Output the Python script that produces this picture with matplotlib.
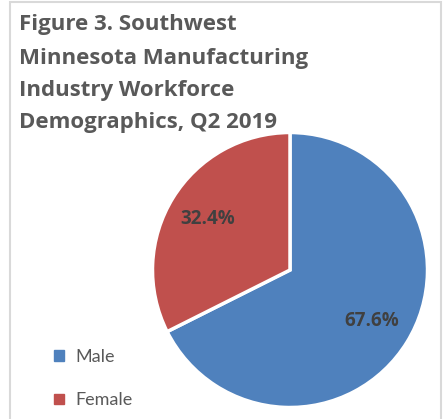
import matplotlib
matplotlib.use("Agg")
import matplotlib.pyplot as plt
from matplotlib.patches import Rectangle, Patch

categories = ["Male", "Female"]
values = [67.6, 32.4]
colors = ["#4F81BD", "#C0504D"]
title_lines = ["Figure 3. Southwest", "Minnesota Manufacturing",
               "Industry Workforce", "Demographics, Q2 2019"]

W, H = 447, 419
fig = plt.figure(figsize=(W / 100, H / 100), dpi=100)
fig.patch.set_facecolor("white")

# border
fig.patches.append(Rectangle((10 / W, -0.02), (441 - 10) / W, (H - 2) / H + 0.02,
                             transform=fig.transFigure, fill=False,
                             edgecolor="#d9d9d9", linewidth=1.5))

cx, cy, r = 290, 270, 137.5
ax = fig.add_axes([(cx - r) / W, (H - cy - r) / H, 2 * r / W, 2 * r / H])
wedges, texts, autotexts = ax.pie(
    values, colors=colors, startangle=90, counterclock=False,
    autopct=lambda p: f"{p:.1f}%", pctdistance=0.70, radius=1,
    wedgeprops=dict(edgecolor="white", linewidth=2.5),
    textprops=dict(color="#404040", fontsize=13.5, fontweight="bold", family="Open Sans"))
ax.set_xlim(-1.0, 1.0)
ax.set_ylim(-1.0, 1.0)
ax.set_aspect("auto")
ax.axis("off")

# title lines placed individually (centre y in px from top)
line_y = [22, 56, 88, 120]
for txt, y in zip(title_lines, line_y):
    fig.text(19 / W, 1 - y / H, txt, ha="left", va="center_baseline", fontsize=16.0,
             fontweight="bold", color="#595959", family="Open Sans")

handles = [Patch(facecolor=c, edgecolor=c) for c in colors]
fig.legend(handles, categories, loc="upper left", bbox_to_anchor=(38 / W, 1 - 333 / H),
           frameon=False, labelcolor="#595959", handlelength=0.55,
           handleheight=0.55, handletextpad=0.6, labelspacing=1.5,
           prop=dict(family="Lato", size=13))

fig.savefig("out.png", dpi=100)
